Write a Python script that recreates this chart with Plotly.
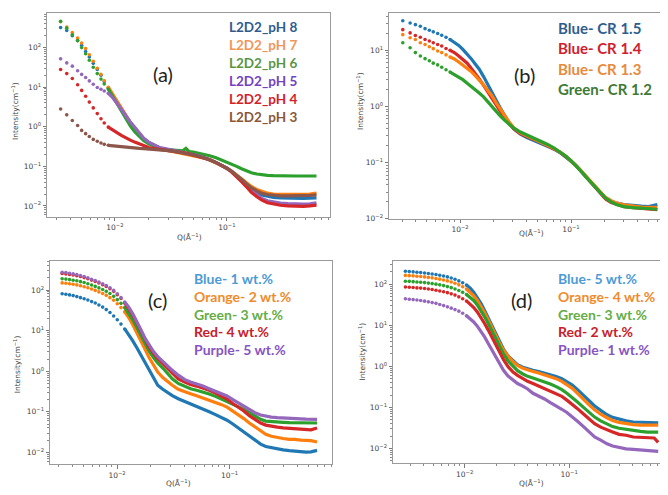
import plotly.graph_objects as go

# page body has an 8px margin: the figure is placed at (8, 8) in the 668x495 window
OX, OY = 8, 8
W, H = 668 - OX, 495 - OY

# ---------------- Panel (a) data ----------------
QA = [0.00327, 0.00371, 0.00416, 0.00464, 0.00504, 0.00547, 0.0059, 0.0064, 0.00695, 0.0075, 0.00802, 0.00871,
      0.0095, 0.0105, 0.0115, 0.0125, 0.0137, 0.015, 0.0165, 0.018, 0.02, 0.0225,
      0.025, 0.028, 0.032, 0.036, 0.04, 0.043, 0.046, 0.05, 0.056, 0.063,
      0.07, 0.08, 0.09, 0.1, 0.11, 0.122, 0.135, 0.15, 0.165, 0.185,
      0.205, 0.23, 0.26, 0.3, 0.35, 0.41, 0.48, 0.55, 0.63]
A_NDOT = 12
A_PH8 = [320, 270, 200, 150, 115, 80, 58, 40, 28, 20, 14, 9.5,
         6.5, 4.0, 2.6, 1.85, 1.3, 0.95, 0.7, 0.5, 0.4, 0.33,
         0.29, 0.27, 0.25, 0.235, 0.222, 0.215, 0.207, 0.195, 0.18, 0.164,
         0.147, 0.124, 0.105, 0.09, 0.075, 0.059, 0.046, 0.035, 0.028, 0.022,
         0.019, 0.0175, 0.0165, 0.016, 0.0157, 0.0155, 0.0155, 0.0157, 0.016]
A_PH7 = [450, 330, 240, 175, 130, 95, 66, 45, 30, 21, 14.5, 10,
         6.8, 4.1, 2.7, 1.9, 1.3, 0.95, 0.7, 0.5, 0.39, 0.32,
         0.28, 0.26, 0.24, 0.225, 0.215, 0.21, 0.2, 0.19, 0.175, 0.16,
         0.145, 0.123, 0.105, 0.09, 0.076, 0.061, 0.048, 0.038, 0.031, 0.026,
         0.023, 0.021, 0.02, 0.0198, 0.0195, 0.0195, 0.0195, 0.02, 0.021]
A_PH6 = [460, 310, 210, 150, 100, 70, 48, 32, 22, 16, 12, 9,
         6.0, 3.6, 2.3, 1.55, 1.05, 0.75, 0.56, 0.45, 0.37, 0.32,
         0.29, 0.27, 0.26, 0.25, 0.245, 0.285, 0.235, 0.228, 0.215, 0.2,
         0.185, 0.165, 0.145, 0.13, 0.115, 0.1, 0.087, 0.077, 0.069, 0.064,
         0.061, 0.059, 0.058, 0.057, 0.057, 0.057, 0.057, 0.057, 0.057]
A_PH5 = [52, 41, 34, 26, 21, 17.5, 14.4, 11.9, 9.8, 8.9, 8.0, 7.0,
         5.5, 3.8, 2.6, 1.85, 1.3, 0.97, 0.72, 0.52, 0.41, 0.34,
         0.3, 0.28, 0.26, 0.245, 0.232, 0.225, 0.215, 0.2, 0.185, 0.168,
         0.15, 0.126, 0.106, 0.09, 0.074, 0.057, 0.043, 0.032, 0.025, 0.019,
         0.0155, 0.0135, 0.0125, 0.0118, 0.0115, 0.0112, 0.0112, 0.0113, 0.012]
A_PH4 = [28, 22, 16.5, 11.5, 8.3, 5.9, 4.2, 3.0, 2.15, 1.6, 1.25, 0.98,
         0.82, 0.7, 0.6, 0.52, 0.46, 0.41, 0.37, 0.33, 0.3, 0.28,
         0.27, 0.26, 0.245, 0.232, 0.222, 0.215, 0.207, 0.195, 0.18, 0.164,
         0.147, 0.124, 0.104, 0.088, 0.072, 0.055, 0.041, 0.03, 0.022, 0.017,
         0.014, 0.012, 0.011, 0.0104, 0.01, 0.0098, 0.0098, 0.01, 0.0105]
A_PH3 = [2.8, 2.0, 1.44, 1.08, 0.81, 0.67, 0.57, 0.48, 0.43, 0.39, 0.36, 0.34,
         0.33, 0.32, 0.31, 0.3, 0.295, 0.29, 0.285, 0.28, 0.275, 0.27,
         0.265, 0.255, 0.245, 0.232, 0.222, 0.215, 0.207, 0.195, 0.18, 0.164,
         0.147, 0.124, 0.105, 0.09, 0.075, 0.06, 0.047, 0.036, 0.029, 0.024,
         0.021, 0.0195, 0.0185, 0.018, 0.018, 0.018, 0.018, 0.0185, 0.019]
A_LABELS = ["L2D2_pH 8", "L2D2_pH 7", "L2D2_pH 6", "L2D2_pH 5", "L2D2_pH 4", "L2D2_pH 3"]

# ---------------- Panel (b) data ----------------
QB = [0.00305, 0.00355, 0.00396, 0.00439, 0.00484, 0.00529, 0.00574, 0.00629, 0.00684, 0.00748, 0.00813,
      0.00889, 0.00973, 0.0106, 0.0116, 0.0126, 0.0137, 0.0149, 0.0163, 0.0178, 0.0194,
      0.0211, 0.023, 0.025, 0.0275, 0.0305, 0.035, 0.04, 0.046, 0.053, 0.061,
      0.07, 0.08, 0.09, 0.1, 0.11, 0.122, 0.135, 0.15, 0.165, 0.185,
      0.205, 0.23, 0.26, 0.3, 0.36, 0.43, 0.5, 0.6]
B_NDOT = 11
B_CR15 = [33.6, 30.6, 28.6, 26.8, 24.3, 22.7, 21.3, 19.9, 18.5, 17.1, 15.6,
          14, 12.2, 10.4, 8.7, 7.1, 5.7, 4.6, 3.4, 2.5, 1.8,
          1.3, 0.95, 0.7, 0.52, 0.4, 0.32, 0.28, 0.25, 0.225, 0.2,
          0.175, 0.15, 0.127, 0.106, 0.09, 0.072, 0.057, 0.045, 0.036, 0.028,
          0.023, 0.0205, 0.019, 0.018, 0.0172, 0.0168, 0.0165, 0.018]
B_CR14 = [23.3, 20.4, 18.3, 17.1, 15.6, 14.6, 13.6, 12.7, 11.9, 10.8, 10.0,
          9.1, 7.9, 6.9, 5.9, 4.8, 3.9, 3.1, 2.37, 1.8, 1.38,
          1.05, 0.82, 0.64, 0.5, 0.4, 0.33, 0.29, 0.26, 0.235, 0.205,
          0.178, 0.152, 0.128, 0.107, 0.09, 0.072, 0.057, 0.045, 0.036, 0.028,
          0.0225, 0.0195, 0.0178, 0.0165, 0.0158, 0.0153, 0.015, 0.0145]
B_CR13 = [19, 16.7, 15.6, 13.6, 12.7, 11.6, 10.7, 9.7, 9.1, 8.3, 7.6,
          7.0, 6.2, 5.5, 4.8, 4.2, 3.55, 3.0, 2.43, 1.93, 1.54,
          1.17, 0.9, 0.7, 0.54, 0.42, 0.34, 0.3, 0.265, 0.238, 0.208,
          0.18, 0.153, 0.13, 0.108, 0.091, 0.074, 0.059, 0.047, 0.038, 0.03,
          0.024, 0.021, 0.019, 0.0178, 0.0168, 0.0162, 0.016, 0.016]
B_CR12 = [13.6, 11.1, 9.1, 7.9, 7.1, 6.5, 5.9, 5.5, 5.0, 4.5, 4.1,
          3.7, 3.3, 3.0, 2.6, 2.3, 2.0, 1.74, 1.48, 1.2, 0.99,
          0.81, 0.68, 0.58, 0.49, 0.41, 0.35, 0.31, 0.275, 0.245, 0.213,
          0.183, 0.155, 0.13, 0.108, 0.09, 0.072, 0.057, 0.045, 0.036, 0.029,
          0.0235, 0.02, 0.0178, 0.0165, 0.0158, 0.0153, 0.015, 0.0148]
B_LABELS = ["Blue- CR 1.5", "Blue- CR 1.4", "Blue- CR 1.3", "Green- CR 1.2"]

# ---------------- Panel (c) data ----------------
QC = [0.00325, 0.00351, 0.00378, 0.00407, 0.00439, 0.00473, 0.0051, 0.0055, 0.00594, 0.0064,
      0.0069, 0.00745, 0.00802, 0.00865, 0.00933, 0.01005, 0.01084, 0.0117,
      0.0127, 0.0138, 0.015, 0.0163, 0.0177, 0.0192, 0.021, 0.023, 0.0255, 0.028,
      0.031, 0.035, 0.04, 0.045, 0.051, 0.058, 0.066, 0.075, 0.085, 0.095,
      0.107, 0.12, 0.134, 0.15, 0.168, 0.189, 0.21, 0.235, 0.266, 0.3,
      0.34, 0.38, 0.43, 0.48, 0.53, 0.6]
C_NDOT = 18
C_W1 = [81, 79, 76, 73, 69, 65, 61, 57, 52, 48, 43, 38, 33, 28, 23, 18.5, 14.5, 11,
        8, 5.6, 3.8, 2.5, 1.6, 1.05, 0.65, 0.45, 0.36, 0.3,
        0.25, 0.21, 0.18, 0.16, 0.14, 0.12, 0.1, 0.085, 0.072, 0.062,
        0.05, 0.04, 0.032, 0.025, 0.02, 0.016, 0.014, 0.013, 0.0122, 0.0115,
        0.011, 0.0106, 0.0103, 0.0102, 0.0103, 0.0112]
C_W2 = [150, 147, 143, 139, 134, 128, 121, 114, 106, 98, 90, 82, 74, 65, 56, 46, 37, 29,
        21, 14, 9, 5.6, 3.5, 2.2, 1.4, 0.95, 0.7, 0.55,
        0.45, 0.36, 0.31, 0.28, 0.25, 0.22, 0.2, 0.175, 0.15, 0.13,
        0.105, 0.085, 0.068, 0.053, 0.042, 0.033, 0.028, 0.025, 0.023, 0.022,
        0.021, 0.021, 0.02, 0.0195, 0.0195, 0.018]
C_W3 = [190, 186, 181, 175, 169, 161, 153, 143, 133, 123, 113, 103, 93, 82, 70, 58, 47, 37,
        27, 18.5, 12, 7.5, 4.8, 3.2, 2.2, 1.6, 1.2, 0.92,
        0.65, 0.5, 0.42, 0.37, 0.34, 0.31, 0.275, 0.24, 0.205, 0.175,
        0.15, 0.13, 0.115, 0.095, 0.078, 0.065, 0.059, 0.057, 0.056, 0.055,
        0.054, 0.054, 0.053, 0.053, 0.053, 0.053]
C_W4 = [255, 250, 243, 235, 226, 215, 203, 190, 176, 163, 149, 136, 123, 108, 93, 77, 62, 48,
        35, 24, 15.5, 9.5, 6, 4.0, 2.8, 2.05, 1.55, 1.2,
        0.93, 0.65, 0.54, 0.47, 0.43, 0.39, 0.34, 0.29, 0.245, 0.205,
        0.16, 0.13, 0.105, 0.08, 0.064, 0.053, 0.047, 0.044, 0.042, 0.04,
        0.039, 0.038, 0.037, 0.037, 0.036, 0.04]
C_W5 = [275, 270, 260, 250, 241, 228, 215, 200, 185, 172, 157, 143, 130, 114, 98, 81, 65, 51,
        38, 26, 17, 10.5, 6.5, 4.4, 3.1, 2.3, 1.75, 1.35,
        1.05, 0.8, 0.62, 0.54, 0.49, 0.43, 0.37, 0.32, 0.28, 0.245,
        0.2, 0.165, 0.14, 0.115, 0.095, 0.083, 0.077, 0.074, 0.072, 0.07,
        0.069, 0.068, 0.067, 0.066, 0.066, 0.065]
C_LABELS = ["Blue- 1 wt.%", "Orange- 2 wt.%", "Green- 3 wt.%", "Red- 4 wt.%", "Purple- 5 wt.%"]

# ---------------- Panel (d) data ----------------
QD = [0.00271, 0.00295, 0.00321, 0.00349, 0.00379, 0.00413, 0.00449, 0.00488, 0.00531, 0.00577,
      0.00628, 0.00683, 0.00743, 0.00808, 0.00879, 0.00956, 0.0104,
      0.0113, 0.0122, 0.0132, 0.0143, 0.0155, 0.0168, 0.0182, 0.0197, 0.0215, 0.0235,
      0.026, 0.029, 0.032, 0.036, 0.04, 0.045, 0.051, 0.058, 0.066, 0.075,
      0.085, 0.095, 0.107, 0.12, 0.137, 0.155, 0.175, 0.2, 0.23, 0.26,
      0.3, 0.35, 0.41, 0.48, 0.56, 0.65, 0.71]
D_NDOT = 17
D_W5 = [205, 202, 199, 195, 191, 187, 182, 177, 171, 165, 158, 150, 141, 131, 120, 108, 95,
        80, 64, 48, 34, 23, 15, 9.5, 6, 3.8, 2.6,
        1.8, 1.35, 1.1, 0.95, 0.86, 0.8, 0.74, 0.68, 0.62, 0.56,
        0.5, 0.43, 0.35, 0.27, 0.2, 0.145, 0.108, 0.083, 0.066, 0.057,
        0.051, 0.047, 0.044, 0.043, 0.042, 0.042, 0.042]
D_W4 = [163, 161, 159, 156, 153, 150, 146, 142, 137, 132, 126, 120, 113, 105, 96, 86, 76,
        64, 52, 40, 29, 20, 13.5, 8.8, 5.7, 3.7, 2.5,
        1.75, 1.3, 1.05, 0.9, 0.81, 0.75, 0.69, 0.62, 0.56, 0.5,
        0.43, 0.36, 0.29, 0.22, 0.155, 0.115, 0.087, 0.068, 0.056, 0.048,
        0.043, 0.04, 0.038, 0.037, 0.037, 0.036, 0.037]
D_W3 = [118, 117, 115, 113, 111, 109, 106, 103, 100, 96, 92, 87, 82, 76, 70, 63, 56,
        48, 40, 31, 23, 16, 11, 7.3, 4.8, 3.1, 2.0,
        1.35, 0.98, 0.78, 0.65, 0.57, 0.52, 0.47, 0.42, 0.37, 0.32,
        0.27, 0.22, 0.175, 0.135, 0.1, 0.075, 0.058, 0.047, 0.039, 0.034,
        0.031, 0.029, 0.027, 0.026, 0.025, 0.025, 0.025]
D_W2 = [85, 84, 83, 81, 80, 78, 76, 74, 71, 68, 65, 62, 58, 54, 49, 44, 39,
        33, 27, 21, 15.5, 11, 7.6, 5.0, 3.3, 2.2, 1.45,
        0.98, 0.72, 0.6, 0.5, 0.43, 0.38, 0.33, 0.29, 0.25, 0.22,
        0.185, 0.15, 0.12, 0.093, 0.069, 0.052, 0.04, 0.033, 0.028, 0.025,
        0.022, 0.021, 0.019, 0.0185, 0.018, 0.018, 0.014]
D_W1 = [44, 43, 42, 41, 40, 38.5, 37, 35.5, 34, 32, 30, 28, 26, 24, 22, 19.5, 17,
        14.5, 12, 9.5, 7.2, 5.2, 3.6, 2.5, 1.7, 1.15, 0.8,
        0.58, 0.45, 0.38, 0.33, 0.28, 0.22, 0.19, 0.16, 0.13, 0.11,
        0.09, 0.075, 0.06, 0.046, 0.034, 0.025, 0.019, 0.016, 0.013, 0.0115,
        0.0105, 0.0098, 0.0095, 0.0092, 0.009, 0.0087, 0.0085]
D_LABELS = ["Blue- 5 wt.%", "Orange- 4 wt.%", "Green- 3 wt.%", "Red- 2 wt.%", "Purple- 1 wt.%"]

# ---------------- styling ----------------
BLUE, ORANGE, GREEN, RED, PURPLE, BROWN = "#1f77b4", "#ff7f0e", "#2ca02c", "#d62728", "#9467bd", "#8c564b"

panels = [
    # (axis suffix, Q, ndot, series, colors, window-pixel box [x0,x1,y0,y1], log x range, log y range)
    ("", QA, A_NDOT, [A_PH8, A_PH7, A_PH6, A_PH5, A_PH4, A_PH3],
     [BLUE, ORANGE, GREEN, PURPLE, RED, BROWN], (47, 330, 13, 219), (-2.607, -0.080), (-2.275, 2.875)),
    ("2", QB, B_NDOT, [B_CR15, B_CR14, B_CR13, B_CR12],
     [BLUE, RED, ORANGE, GREEN], (389, 666, 13, 221), (-2.640, -0.144), (-2.0, 1.665)),
    ("3", QC, C_NDOT, [C_W1, C_W2, C_W3, C_W4, C_W5],
     [BLUE, ORANGE, GREEN, RED, PURPLE], (50, 332, 264, 469), (-2.596, -0.089), (-2.293, 2.707)),
    ("4", QD, D_NDOT, [D_W5, D_W4, D_W3, D_W2, D_W1],
     [BLUE, ORANGE, GREEN, RED, PURPLE], (393, 666, 264, 468), (-2.686, -0.074), (-2.361, 2.554)),
]


def px_x(x):
    return (x - OX) / W


def px_y(y):
    return 1 - (y - OY) / H


fig = go.Figure()
layout = dict(width=W, height=H, margin=dict(l=0, r=0, t=0, b=0),
              paper_bgcolor="white", plot_bgcolor="white", showlegend=False)


def sup(e):
    return "10<sup>" + (str(e) if e >= 0 else "\u2212" + str(-e)) + "</sup>"


def minor_vals(lo, hi):
    out = []
    for d in range(int(lo) - 1, int(hi) + 2):
        for m in range(2, 10):
            out.append(m * 10 ** d)
    return out


for suf, Q, nd, series, cols, box, xr, yr in panels:
    xa = "x" + suf
    ya = "y" + suf
    for vals, c in zip(series, cols):
        fig.add_trace(go.Scatter(x=Q[:nd], y=vals[:nd], mode="markers", xaxis=xa, yaxis=ya,
                                 marker=dict(size=3.6, color=c, line=dict(width=0)), hoverinfo="skip"))
        fig.add_trace(go.Scatter(x=Q[nd - 1:], y=vals[nd - 1:], mode="lines", xaxis=xa, yaxis=ya,
                                 line=dict(width=3.2, color=c), hoverinfo="skip"))
    x0, x1, y0, y1 = box
    xmaj = [e for e in range(-3, 1) if xr[0] <= e <= xr[1]]
    ymaj = [e for e in range(-3, 4) if yr[0] - 1e-6 <= e <= yr[1]]
    common = dict(type="log", showline=True, mirror=True, linecolor="#9a9a9a", linewidth=1,
                  showgrid=False, zeroline=False, ticks="outside", ticklen=3.5, tickwidth=0.8,
                  tickcolor="#7a7a7a", tickfont=dict(size=7.5, color="#444", family="DejaVu Sans"))
    layout["xaxis" + suf] = dict(common, domain=[px_x(x0), px_x(x1)], range=list(xr),
                                 anchor=ya, tickvals=[10 ** e for e in xmaj], ticktext=[sup(e) for e in xmaj],
                                 minor=dict(tickvals=minor_vals(*xr), ticks="outside", ticklen=2,
                                            tickcolor="#8a8a8a", tickwidth=0.6))
    layout["yaxis" + suf] = dict(common, domain=[px_y(y1), px_y(y0)], range=list(yr),
                                 anchor=xa, tickvals=[10 ** e for e in ymaj], ticktext=[sup(e) for e in ymaj],
                                 minor=dict(tickvals=minor_vals(*yr), ticks="outside", ticklen=2,
                                            tickcolor="#8a8a8a", tickwidth=0.6))

ann = []


def text(x, y, s, size, color, bold=False, xanchor="left", angle=0, family="Lato"):
    ann.append(dict(xref="paper", yref="paper", x=px_x(x), y=px_y(y),
                    text=("<b>%s</b>" % s) if bold else s, align="left",
                    showarrow=False, xanchor=xanchor, yanchor="middle", textangle=angle, borderpad=0,
                    font=dict(size=size, color=color, family=family)))


# legends (coloured text)
A_TXT = ["#2f5c8f", "#f0965a", "#5a9545", "#7442c0", "#d4202a", "#8a5738"]
for i, (lab, c) in enumerate(zip(A_LABELS, A_TXT)):
    text(228, 27.7 + 18.1 * i, lab, 13.5, c, bold=True)
B_TXT = ["#2f5e8e", "#d0202e", "#e88a3c", "#3d7a35"]
for i, (lab, c) in enumerate(zip(B_LABELS, B_TXT)):
    text(557, 28.3 + 20.6 * i, lab, 15, c, bold=True)
C_TXT = ["#4c9bd6", "#f08a2c", "#66ad46", "#c8202a", "#8755c2"]
for i, (lab, c) in enumerate(zip(C_LABELS, C_TXT)):
    text(193, 281.7 + 17.75 * i, lab, 14, c, bold=True)
D_TXT = ["#4c9bd6", "#f08a2c", "#66ad46", "#c8202a", "#8755c2"]
for i, (lab, c) in enumerate(zip(D_LABELS, D_TXT)):
    text(557, 281.7 + 17.75 * i, lab, 14, c, bold=True)

# panel letters
text(163, 75, "(a)", 20, "#222", xanchor="center")
text(524, 76, "(b)", 20, "#222", xanchor="center")
text(157, 303, "(c)", 20, "#222", xanchor="center")
text(521, 303, "(d)", 20, "#222", xanchor="center")

# axis titles
YT = "Intensity(cm<sup>\u22121</sup>)"
XT = "Q(\u00c5<sup>\u22121</sup>)"
for (x, y) in [(15, 112), (360, 102), (17, 368), (362, 355)]:
    text(x, y, YT, 7.5, "#444", xanchor="center", angle=-90, family="DejaVu Sans")
for (x, y) in [(189, 239), (531, 235), (178, 488), (531, 488)]:
    text(x, y, XT, 7.5, "#444", xanchor="center", family="DejaVu Sans")

layout["annotations"] = ann
fig.update_layout(**layout)
fig.write_html("out.html")
